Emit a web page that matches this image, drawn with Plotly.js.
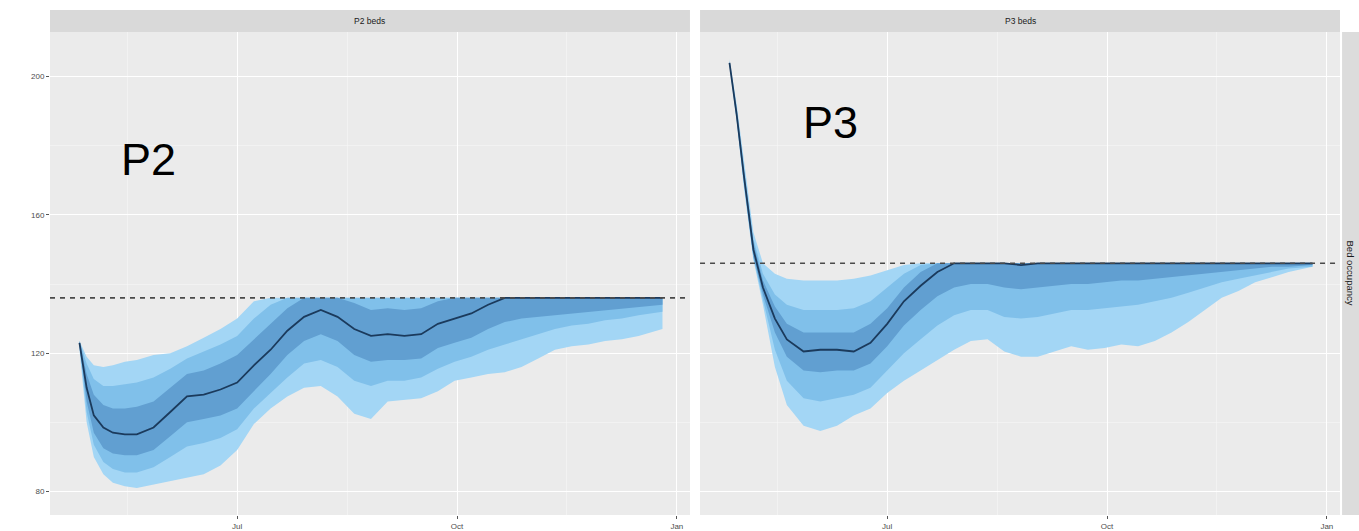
<!DOCTYPE html>
<html>
<head>
<meta charset="utf-8">
<script src="https://cdn.plot.ly/plotly-3.0.1.min.js"></script>
<style>html,body{margin:0;padding:0;background:#fff;}#chart{width:1359px;height:531px;}</style>
</head>
<body>
<div id="chart"></div>
<script>
// ---- data ----
const dates = ['2020-04-26','2020-04-29','2020-05-02','2020-05-06','2020-05-10','2020-05-15','2020-05-20','2020-05-27','2020-06-03','2020-06-10','2020-06-17','2020-06-24','2020-07-01','2020-07-08','2020-07-15','2020-07-22','2020-07-29','2020-08-05','2020-08-12','2020-08-19','2020-08-26','2020-09-02','2020-09-09','2020-09-16','2020-09-23','2020-09-30','2020-10-07','2020-10-14','2020-10-21','2020-10-28','2020-11-04','2020-11-11','2020-11-18','2020-11-25','2020-12-02','2020-12-09','2020-12-16','2020-12-26'];

const panelNames = ['P2 beds','P3 beds'];
const panelLabels = ['P2','P3'];
const capValues = [136, 146];

// P2 beds
const p2_lo95 = [121,100,90,85,82.5,81.5,81,82,83,84,85,87.5,92,99.5,104,107.5,110,110.5,107.5,102.5,101,106,106.5,107,109,112,113,114,114.5,116,118.5,121,122,122.5,123.5,124,125,127];
const p2_lo80 = [122,103,93.5,88.5,86.5,85.5,85.5,87,90,93,94,95.5,98,104,108.5,113,117,118,116,112,110.5,112,112,113,115.5,117.5,119,121,122.5,124,125.5,127,128,128.5,129.5,130,131,132];
const p2_lo50 = [122.5,106,97,92.5,91,90.5,90.5,92,96,100,101,102,104,109,114,119.5,123.5,125.5,123.5,119.5,117.5,118,118,118.5,121.5,123,124.5,127,129,130,130.5,131,131.5,132,132.5,133,133.5,134];
const p2_med  = [123,110,102,98.5,97,96.5,96.5,98.5,103,107.5,108,109.5,111.5,116.5,121,126.5,130.5,132.5,130.5,127,125,125.5,125,125.5,128.5,130,131.5,134,136,136,136,136,136,136,136,136,136,136];
const p2_hi50 = [123.5,114,108,105,104,104,104.5,106,110,114,115,117,119.5,124,128.5,133,136,136,136,134.5,132.5,133,132.5,133,135,136,136,136,136,136,136,136,136,136,136,136,136,136];
const p2_hi80 = [123.5,117,112.5,110.5,110.5,111,111.5,113,115.5,118.5,120.5,122.5,125,130,134,136,136,136,136,136,136,136,136,136,136,136,136,136,136,136,136,136,136,136,136,136,136,136];
const p2_hi95 = [123.5,119,116.5,116,116.5,117.5,118,119.5,120,122,124.5,127,130,135,136,136,136,136,136,136,136,136,136,136,136,136,136,136,136,136,136,136,136,136,136,136,136,136];

// P3 beds
const p3_lo95 = [203,187,168,147,134,116,105,99,97.5,99,102,104,108.5,112,115,118,121,123.5,124,120.5,119,119,120.5,122,121,121.5,122.5,122,123.5,126,129,132.5,136,138,140.5,142,143.5,145];
const p3_lo80 = [203.5,187.5,169,147.5,135.5,121,112,107,106,107,108,110,115,120,124,128,131,132.5,132.5,130.5,130,130.5,131.5,132.5,132.5,133,133.5,134,135,136,137.5,139,140.5,141.5,142.5,143.5,144.5,145];
const p3_lo50 = [203.8,188,170,148,137,126,119,115,114.5,115,115,117,122,128,132.5,136.5,139,140,140,139,138.5,139,139.5,140,140,140.5,141,141,141.5,142,142.5,143,143.5,144,144.5,145,145,145.5];
const p3_med  = [204,189,171.5,150,139,130,124,120.5,121,121,120.5,123,128.5,135,139.5,143.5,146,146,146,146,145.5,146,146,146,146,146,146,146,146,146,146,146,146,146,146,146,146,146];
const p3_hi50 = [204.2,190,173,152,141,133.5,128.5,126,126,126,126,128.5,133,139,143.5,146,146,146,146,146,146,146,146,146,146,146,146,146,146,146,146,146,146,146,146,146,146,146];
const p3_hi80 = [204.5,191,174,153,143,137,134,132.5,132.5,132.5,133,135,139,143,145.5,146,146,146,146,146,146,146,146,146,146,146,146,146,146,146,146,146,146,146,146,146,146,146];
const p3_hi95 = [205,192,176,155,146,143,141.5,141,141,141,141.5,142.5,144,145.5,146,146,146,146,146,146,146,146,146,146,146,146,146,146,146,146,146,146,146,146,146,146,146,146];

const xTickVals = ['2020-07-01','2020-10-01','2021-01-01'];
const xTickText = ['Jul','Oct','Jan'];
const xMinorVals = ['2020-05-16','2020-08-16','2020-11-16'];
const yTickVals = [80,120,160,200];
const yMinorVals = [100,140,180];

// ---- styles ----
const C_LIGHT = '#a3d6f5', C_MID = '#80c0ea', C_DARK = '#619fd1', C_MED = '#1b3a5c';

const panels = [
  {lo95:p2_lo95, lo80:p2_lo80, lo50:p2_lo50, med:p2_med, hi50:p2_hi50, hi80:p2_hi80, hi95:p2_hi95, xa:'x', ya:'y'},
  {lo95:p3_lo95, lo80:p3_lo80, lo50:p3_lo50, med:p3_med, hi50:p3_hi50, hi80:p3_hi80, hi95:p3_hi95, xa:'x2', ya:'y2'}
];

const traces = [];
panels.forEach(p => {
  const base = {x: dates, xaxis: p.xa, yaxis: p.ya, mode: 'lines', showlegend: false, hoverinfo: 'skip'};
  [[p.lo95,p.hi95,C_LIGHT],[p.lo80,p.hi80,C_MID],[p.lo50,p.hi50,C_DARK]].forEach(b => {
    traces.push(Object.assign({}, base, {y: b[0], line: {width: 0, color: b[2]}}));
    traces.push(Object.assign({}, base, {y: b[1], line: {width: 0, color: b[2]}, fill: 'tonexty', fillcolor: b[2]}));
  });
  traces.push(Object.assign({}, base, {y: p.med, line: {width: 1.8, color: C_MED}}));
});

const xRange = ['2020-04-13 16:00','2021-01-06 12:00'];
const yRange = [73.2, 212.9];
const tickFont = {family: 'Liberation Sans, Arial, sans-serif', size: 8, color: '#4d4d4d'};

function xaxisDef(domain, anchor) {
  return {domain: domain, anchor: anchor, type: 'date', range: xRange,
    tickmode: 'array', tickvals: xTickVals, ticktext: xTickText,
    showgrid: true, gridcolor: '#ffffff', gridwidth: 1,
    ticks: 'outside', ticklen: 3, tickcolor: '#555', tickwidth: 1, tickfont: tickFont,
    minor: {tickmode: 'array', tickvals: xMinorVals, showgrid: true, gridcolor: '#f6f6f6', gridwidth: 0.6, ticks: ''},
    zeroline: false, showline: false, fixedrange: true};
}
function yaxisDef(anchor, showLabels) {
  return {anchor: anchor, range: yRange, tickmode: 'array', tickvals: yTickVals,
    showgrid: true, gridcolor: '#ffffff', gridwidth: 1,
    ticks: showLabels ? 'outside' : '', ticklen: 3, tickcolor: '#555', tickwidth: 1,
    showticklabels: showLabels, tickfont: tickFont,
    minor: {tickmode: 'array', tickvals: yMinorVals, showgrid: true, gridcolor: '#f6f6f6', gridwidth: 0.6, ticks: ''},
    zeroline: false, showline: false, fixedrange: true};
}

const d1 = [0, 0.4961], d2 = [0.5039, 1];
const stripTop = 1 + 22/483;

const shapes = [
  {type:'rect', xref:'paper', yref:'paper', x0:d1[0], x1:d1[1], y0:1, y1:stripTop, fillcolor:'#d9d9d9', line:{width:0}, layer:'below'},
  {type:'rect', xref:'paper', yref:'paper', x0:d2[0], x1:d2[1], y0:1, y1:stripTop, fillcolor:'#d9d9d9', line:{width:0}, layer:'below'},
  {type:'rect', xref:'paper', yref:'paper', x0:1.0016, x1:1.03, y0:0, y1:1, fillcolor:'#dcdcdc', line:{width:0}, layer:'below'},
  {type:'line', xref:'x domain', yref:'y', x0:0, x1:1, y0:capValues[0], y1:capValues[0], line:{color:'#4a4a4a', width:1.6, dash:'5px,5px'}},
  {type:'line', xref:'x2 domain', yref:'y2', x0:0, x1:1, y0:capValues[1], y1:capValues[1], line:{color:'#4a4a4a', width:1.6, dash:'5px,5px'}}
];

const stripFont = {family: 'Liberation Sans, Arial, sans-serif', size: 8.5, color: '#1a1a1a'};
const bigFont = {family: 'Liberation Sans, Arial, sans-serif', size: 45, color: '#000'};
const annotations = [
  {xref:'paper', yref:'paper', x:(d1[0]+d1[1])/2, y:(1+stripTop)/2, text:panelNames[0], showarrow:false, font:stripFont, xanchor:'center', yanchor:'middle'},
  {xref:'paper', yref:'paper', x:(d2[0]+d2[1])/2, y:(1+stripTop)/2, text:panelNames[1], showarrow:false, font:stripFont, xanchor:'center', yanchor:'middle'},
  {xref:'paper', yref:'paper', x:1.0085, y:0.5, text:'Bed occupancy', textangle:90, showarrow:false, font:{family:'Liberation Sans, Arial, sans-serif', size:9.5, color:'#1a1a1a'}, xanchor:'center', yanchor:'middle'},
  {xref:'paper', yref:'paper', x:0.0767, y:0.735, text:panelLabels[0], showarrow:false, font:bigFont, xanchor:'center', yanchor:'middle'},
  {xref:'paper', yref:'paper', x:0.6047, y:0.8116, text:panelLabels[1], showarrow:false, font:bigFont, xanchor:'center', yanchor:'middle'}
];

const layout = {
  width: 1359, height: 531,
  margin: {l: 50, r: 19, t: 32, b: 16, pad: 0},
  paper_bgcolor: '#ffffff', plot_bgcolor: '#ebebeb',
  showlegend: false,
  xaxis: xaxisDef(d1, 'y'), yaxis: yaxisDef('x', true),
  xaxis2: xaxisDef(d2, 'y2'), yaxis2: yaxisDef('x2', false),
  shapes: shapes, annotations: annotations
};

Plotly.newPlot('chart', traces, layout, {displayModeBar: false, staticPlot: true});
</script>
</body>
</html>
